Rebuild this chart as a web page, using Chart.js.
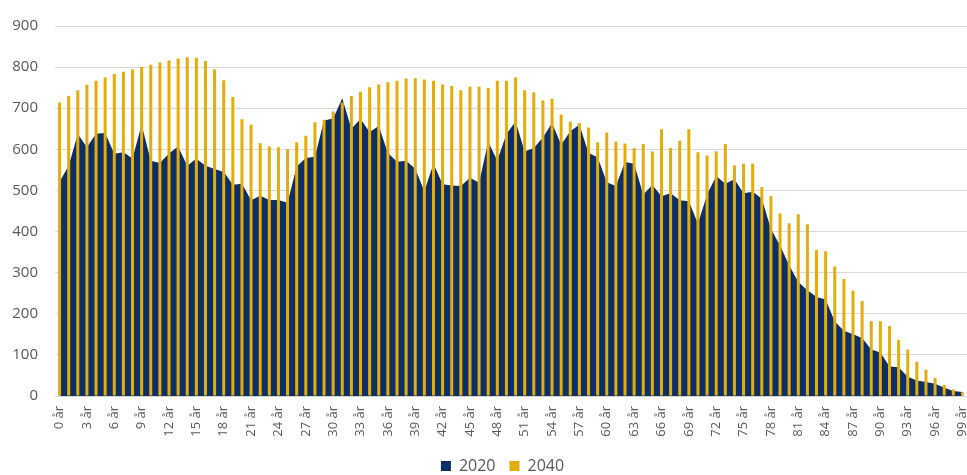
<!DOCTYPE html>
<html>
<head>
<meta charset="utf-8">
<script src="https://cdn.jsdelivr.net/npm/chart.js@4.4.1/dist/chart.umd.min.js"></script>
<style>
    html, body { margin: 0; padding: 0; background: #fff; }
    #wrap { width: 967px; height: 475px; position: relative; }
</style>
</head>
<body>
<div id="wrap"><canvas id="chartAlder"></canvas></div>
<script>
/* DATA */
const alder = Array.from({length: 100}, (_, i) => i + ' år');

const serie2020 = [
    521, 560, 637, 605, 638, 640, 589, 593, 578, 660,
    572, 567, 590, 607, 560, 577, 560, 552, 545, 514,
    516, 476, 487, 477, 477, 470, 558, 579, 582, 670,
    675, 724, 650, 674, 642, 657, 591, 570, 572, 553,
    498, 565, 515, 512, 511, 531, 519, 618, 573, 637,
    668, 595, 603, 629, 664, 611, 644, 660, 591, 581,
    520, 511, 569, 565, 490, 513, 486, 493, 476, 474,
    419, 490, 535, 516, 527, 493, 497, 480, 406, 366,
    318, 277, 257, 241, 235, 181, 159, 150, 141, 113,
    106, 72, 70, 47, 38, 34, 30, 20, 12, 10
];

const serie2040 = [
    714, 730, 744, 757, 767, 775, 783, 789, 794, 800,
    806, 811, 816, 821, 824, 823, 815, 794, 768, 727,
    673, 660, 615, 607, 605, 600, 617, 633, 666, 672,
    692, 714, 730, 740, 751, 758, 763, 767, 772, 773,
    770, 767, 758, 754, 744, 752, 752, 749, 767, 767,
    775, 744, 739, 719, 723, 685, 668, 664, 653, 617,
    641, 619, 614, 603, 613, 595, 649, 603, 621, 649,
    593, 585, 595, 613, 561, 565, 565, 508, 486, 444,
    420, 442, 418, 355, 352, 315, 285, 256, 231, 182,
    182, 170, 137, 113, 83, 64, 44, 27, 16, 9
];

const yTicks = [0, 100, 200, 300, 400, 500, 600, 700, 800, 900];

const NAVY = '#0b2f66';
const GULL = '#e5ad0a';
const TEKST = '#595959';

/* legenden står litt til høyre for midten i originalen */
const flyttLegende = {
    id: 'flyttLegende',
    afterLayout(chart) { chart.legend.left += 38; }
};

/* CHART */
new Chart(document.getElementById('chartAlder'), {
    type: 'bar',
    data: {
        labels: alder,
        datasets: [
            {
                type: 'line', label: '2020', data: serie2020,
                borderColor: NAVY, backgroundColor: NAVY, borderWidth: 0,
                pointRadius: 0, tension: 0, fill: 'origin', order: 1
            },
            {
                type: 'bar', label: '2040', data: serie2040,
                backgroundColor: GULL, borderWidth: 0,
                barPercentage: 0.33, categoryPercentage: 1, order: 0
            }
        ]
    },
    plugins: [flyttLegende],
    options: {
        responsive: true, maintainAspectRatio: false, animation: false,
        layout: {padding: {top: 24, right: 0, left: 0, bottom: -9}},
        plugins: {
            tooltip: {enabled: false},
            legend: {
                position: 'bottom',
                labels: {
                    font: {family: 'Open Sans', size: 16}, color: TEKST,
                    boxWidth: 10, boxHeight: 10, padding: 14,
                    sort: (a, b) => a.datasetIndex - b.datasetIndex
                }
            }
        },
        scales: {
            x: {
                grid: {display: false}, border: {display: false},
                ticks: {
                    font: {family: 'Open Sans', size: 13}, color: TEKST,
                    autoSkip: false, minRotation: 90, maxRotation: 90, padding: 2,
                    callback: (v, i) => i % 3 === 0 ? alder[i] : ''
                },
                afterFit: s => { s.paddingLeft = 0; s.paddingRight = 0; s.height = 48; }
            },
            y: {
                min: 0, max: 900,
                afterBuildTicks: s => { s.ticks = yTicks.map(v => ({value: v})); },
                grid: {color: '#d9d9d9', drawTicks: false}, border: {display: false},
                ticks: {font: {family: 'Open Sans', size: 15}, color: TEKST, padding: 17},
                afterFit: s => { s.width = 55; }
            }
        }
    }
});
</script>
</body>
</html>
